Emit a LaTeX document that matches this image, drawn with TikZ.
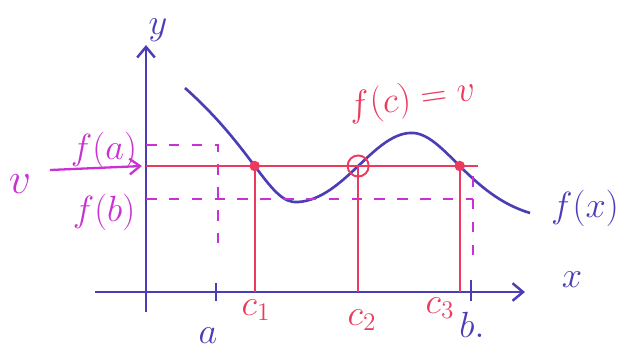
\documentclass[tikz,border=0pt]{standalone}
\usepackage{xcolor}
\usepackage{tikz}
\usetikzlibrary{arrows.meta, positioning, calc, intersections}
\usepackage{amsmath}
\definecolor{penblue}{HTML}{4A3DB5}
\definecolor{penmagenta}{HTML}{C832D2}
\definecolor{penred}{HTML}{EB3A5E}

\begin{document}
\begin{tikzpicture}[
    x={(0.02cm,0)}, y={(0,-0.02cm)},
    every node/.style={font=\huge},
    axisline/.style={draw=penblue, line width=1.4pt, -{Straight Barb[length=6pt,width=10pt]}},
    curveline/.style={draw=penblue, line width=1.5pt},
    levelline/.style={draw=penred, line width=1.1pt},
    guideline/.style={draw=penmagenta, line width=1pt, dash pattern=on 6pt off 7pt},
    bluelabel/.style={text=penblue},
    redlabel/.style={text=penred},
    maglabel/.style={text=penmagenta},
]
\useasboundingbox (0,0) rectangle (626,360);

% axes
\coordinate (origin) at (146,292);
\draw[axisline] (146,312) -- (146,45) coordinate (ytop);
\draw[axisline] (95,292) -- (525,292) coordinate (xend);
\node[bluelabel] (ylab) at (158,30) {$y$};
\node[bluelabel] (xlab) at (572,280) {$x$};

% ticks a and b
\coordinate (a) at (216,292);
\coordinate (b) at (471,292);
\draw[penblue, line width=1.4pt] ($(a)+(0,-9)$) -- ($(a)+(0,9)$);
\draw[penblue, line width=1.4pt] ($(b)+(0,-12)$) -- ($(b)+(0,9)$);
\node[bluelabel] (alab) at (208,336) {$a$};
\node[bluelabel] (blab) at (472,325) {$b.$};

% the function
\draw[curveline, name path=curve] (185,88)
    .. controls (255,150) and (270,205) .. (298,202)
    .. controls (345,199) and (375,130) .. (414,133)
    .. controls (445,136) and (470,195) .. (530,213);
\node[bluelabel] (fxlab) at (585,208) {$f(x)$};

% f(a) and f(b) guides
\coordinate (fa) at (146,145);
\coordinate (fb) at (146,199);
\draw[guideline] (fa) -- (218,145) -- (218,246);
\draw[guideline] (fb) -- (473,199);
\draw[guideline] (473,176) -- (473,262);
\node[maglabel] (falab) at (104,150) {$f(a)$};
\node[maglabel] (fblab) at (104,212) {$f(b)$};

% level v
\coordinate (vstart) at (146,166);
\coordinate (vend) at (478,166);
\draw[levelline, name path=vline] (vstart) -- (vend);
\coordinate (vtail) at (50,170);
\draw[penmagenta, line width=1.3pt, -{Straight Barb[length=6pt,width=9pt]}] (vtail) -- ($(vstart)+(-4,0)$);
\node[maglabel, font=\Huge] (vlab) at (20,184) {$v$};

% points c1, c2, c3
\path[name intersections={of=curve and vline, by={c1,c2,c3}, sort by=vline}];
\foreach \c in {c1,c2,c3}
    \draw[levelline] (\c) -- (\c |- origin);
\fill[penred] (c1) circle (3pt);
\fill[penred] (c3) circle (3pt);
\draw[penred, line width=1.1pt] (c2) circle (6pt);
\node[redlabel] (c1lab) at (256,310) {$c_1$};
\node[redlabel] (c2lab) at (362,320) {$c_2$};
\node[redlabel] (c3lab) at (440,308) {$c_3$};
\node[redlabel, rotate=8] (fclab) at (412,100) {$f(c)=v$};

\end{tikzpicture}
\end{document}
